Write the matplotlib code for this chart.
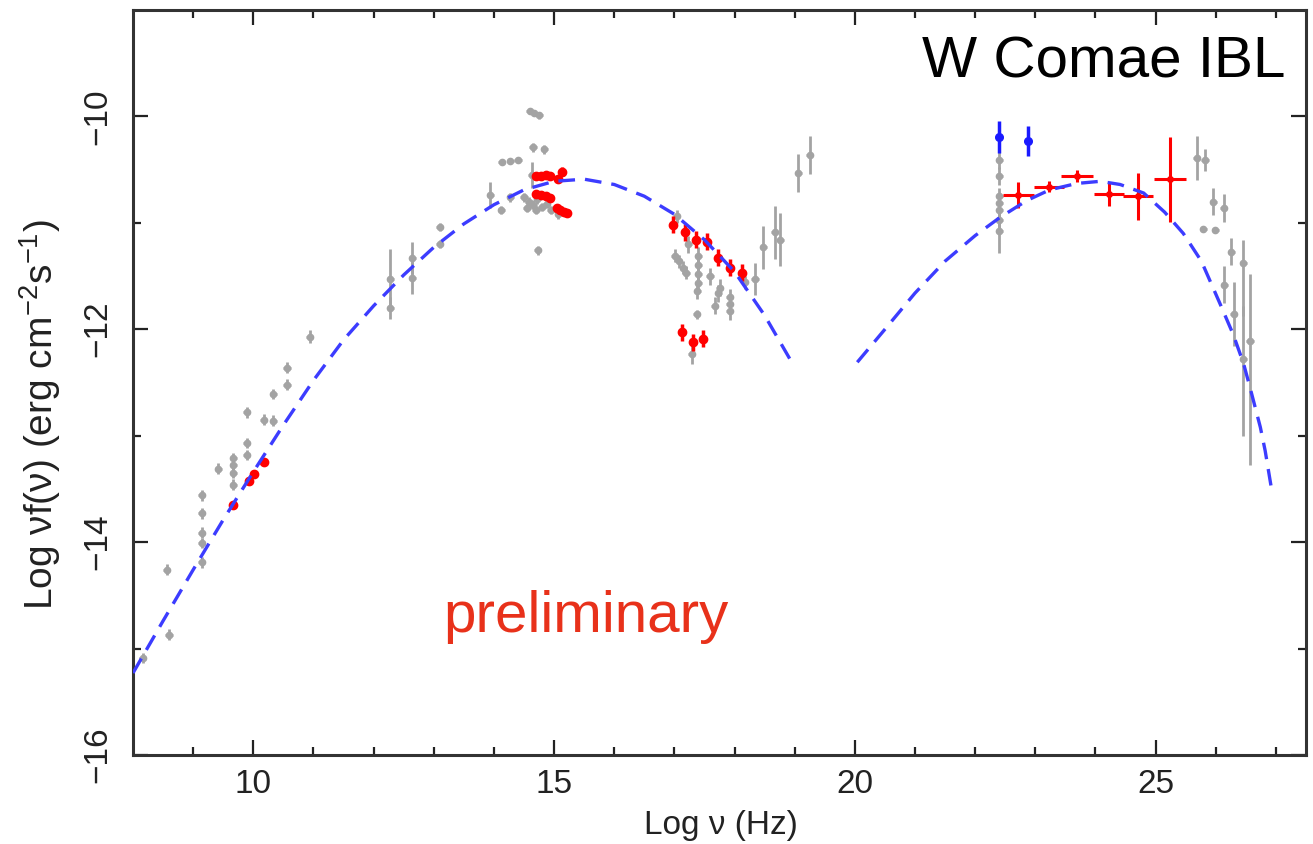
import matplotlib
matplotlib.use("Agg")
import matplotlib.pyplot as plt
import numpy as np

plt.rcParams['font.family'] = ['Liberation Sans', 'DejaVu Sans']
plt.rcParams['mathtext.fontset'] = 'custom'
plt.rcParams['mathtext.rm'] = 'Liberation Sans'
plt.rcParams['mathtext.default'] = 'regular'

# ---------------- data ----------------
# archival (grey) points: x, y, lower y-error, upper y-error
gray_x = [8.16, 8.56, 8.60, 9.14, 9.14, 9.14, 9.14, 9.14, 9.42,
          9.67, 9.67, 9.67, 9.67, 9.89, 9.89, 9.89, 10.17, 10.33, 10.33,
          10.56, 10.56, 10.94, 12.28, 12.28, 12.64, 12.64, 13.10, 13.10,
          13.94, 14.12, 14.27, 14.13, 14.27, 14.40, 14.60, 14.67, 14.75,
          14.65, 14.84, 14.63, 14.50, 14.58, 14.65, 14.72, 14.80, 14.88,
          14.95, 14.55, 14.70, 15.07, 14.73,
          17.04, 17.01, 17.07, 17.15, 17.20, 17.23, 17.40, 17.40, 17.40,
          17.40, 17.38, 17.59, 17.75, 17.73, 17.67, 17.92, 17.92, 17.92,
          17.37, 17.29, 18.17, 18.34, 18.48, 18.67, 18.76, 19.06, 19.25,
          22.40, 22.40, 22.40, 22.40, 22.40, 22.40, 22.40,
          25.68, 25.82, 25.96, 26.13, 25.79, 25.99, 26.26, 26.46, 26.14,
          26.30, 26.46, 26.57]
gray_y = [-15.09, -14.26, -14.87, -13.56, -13.73, -13.91, -14.01, -14.19, -13.31,
          -13.21, -13.28, -13.35, -13.46, -12.78, -13.07, -13.18, -12.85, -12.86, -12.61,
          -12.36, -12.52, -12.07, -11.53, -11.80, -11.33, -11.52, -11.04, -11.20,
          -10.74, -10.88, -10.76, -10.43, -10.42, -10.41, -9.95, -9.97, -9.99,
          -10.29, -10.31, -10.55, -10.76, -10.80, -10.83, -10.78, -10.85, -10.82,
          -10.88, -10.86, -10.88, -10.92, -11.26,
          -10.94, -11.31, -11.36, -11.42, -11.47, -11.20, -11.31, -11.40, -11.48,
          -11.57, -11.64, -11.50, -11.61, -11.66, -11.78, -11.70, -11.76, -11.83,
          -11.86, -12.23, -11.56, -11.53, -11.23, -11.09, -11.16, -10.53, -10.36,
          -10.41, -10.56, -10.75, -10.81, -10.88, -10.97, -11.08,
          -10.39, -10.41, -10.80, -10.86, -11.06, -11.07, -11.27, -11.38, -11.58,
          -11.86, -12.28, -12.11]
gray_ylo = [0.05, 0.05, 0.05, 0.05, 0.05, 0.05, 0.05, 0.05, 0.05,
            0.05, 0.05, 0.05, 0.05, 0.05, 0.05, 0.05, 0.05, 0.05, 0.05,
            0.05, 0.05, 0.06, 0.28, 0.10, 0.15, 0.15, 0.04, 0.04,
            0.12, 0.04, 0.04, 0.03, 0.03, 0.03, 0.03, 0.03, 0.03,
            0.04, 0.04, 0.12, 0.04, 0.04, 0.04, 0.04, 0.04, 0.04,
            0.04, 0.04, 0.04, 0.04, 0.04,
            0.06, 0.06, 0.06, 0.06, 0.06, 0.08, 0.08, 0.08, 0.08,
            0.08, 0.08, 0.08, 0.08, 0.08, 0.08, 0.08, 0.08, 0.08,
            0.04, 0.10, 0.06, 0.15, 0.20, 0.25, 0.25, 0.18, 0.18,
            0.08, 0.08, 0.08, 0.08, 0.08, 0.08, 0.20,
            0.21, 0.10, 0.13, 0.13, 0.02, 0.02, 0.13, 0.50, 0.17,
            0.30, 0.72, 1.17]
gray_yhi = [0.05, 0.05, 0.05, 0.05, 0.05, 0.05, 0.05, 0.05, 0.05,
            0.05, 0.05, 0.05, 0.05, 0.05, 0.05, 0.05, 0.05, 0.05, 0.05,
            0.05, 0.05, 0.06, 0.28, 0.10, 0.15, 0.15, 0.04, 0.04,
            0.12, 0.04, 0.04, 0.03, 0.03, 0.03, 0.03, 0.03, 0.03,
            0.04, 0.04, 0.12, 0.04, 0.04, 0.04, 0.04, 0.04, 0.04,
            0.04, 0.04, 0.04, 0.04, 0.04,
            0.06, 0.06, 0.06, 0.06, 0.06, 0.08, 0.08, 0.08, 0.08,
            0.08, 0.08, 0.08, 0.08, 0.08, 0.08, 0.08, 0.08, 0.08,
            0.04, 0.10, 0.06, 0.15, 0.20, 0.25, 0.25, 0.18, 0.18,
            0.08, 0.08, 0.08, 0.08, 0.08, 0.08, 0.08,
            0.21, 0.10, 0.13, 0.13, 0.02, 0.02, 0.13, 0.22, 0.17,
            0.30, 0.50, 0.63]

# new simultaneous (red) points
red_x = [9.67, 9.92, 10.01, 10.18,
         14.70, 14.78, 14.86, 14.94, 15.13, 15.07, 14.70, 14.78, 14.86, 14.94,
         15.04, 15.10, 15.16, 15.21,
         16.97, 17.17, 17.36, 17.55, 17.73, 17.92, 18.12, 17.12, 17.31, 17.47]
red_y = [-13.65, -13.43, -13.36, -13.25,
         -10.56, -10.56, -10.55, -10.56, -10.52, -10.59, -10.73, -10.74, -10.75, -10.77,
         -10.86, -10.88, -10.90, -10.91,
         -11.02, -11.09, -11.16, -11.18, -11.33, -11.42, -11.47, -12.03, -12.12, -12.09]
red_yerr = [0.03, 0.03, 0.03, 0.03,
            0.03, 0.03, 0.03, 0.03, 0.04, 0.03, 0.03, 0.03, 0.03, 0.03,
            0.03, 0.03, 0.03, 0.03,
            0.08, 0.08, 0.08, 0.08, 0.08, 0.08, 0.08, 0.08, 0.08, 0.08]

# Fermi-LAT (red, with energy bins)
lat_x = [22.72, 23.22, 23.69, 24.23, 24.71, 25.24]
lat_y = [-10.74, -10.66, -10.56, -10.73, -10.75, -10.59]
lat_xerr = [0.25, 0.25, 0.27, 0.25, 0.25, 0.27]
lat_yerr = [0.12, 0.05, 0.06, 0.11, 0.22, 0.40]

# blue points
blue_x = [22.40, 22.88]
blue_y = [-10.19, -10.23]
blue_yerr = [0.15, 0.14]

# model curves
sync_x = [8.0, 8.5, 9.0, 9.5, 10.0, 10.5, 11.0, 11.5, 12.0, 12.5, 13.0, 13.5,
          14.0, 14.5, 15.0, 15.5, 16.0, 16.5, 17.0, 17.5, 18.0, 18.5, 18.92]
sync_y = [-15.23, -14.74, -14.26, -13.79, -13.34, -12.90, -12.48, -12.10, -11.78,
          -11.49, -11.23, -11.01, -10.83, -10.69, -10.61, -10.59, -10.64, -10.75,
          -10.92, -11.16, -11.46, -11.87, -12.28]
ic_x = [20.04, 20.5, 21.0, 21.5, 22.0, 22.41, 22.86, 23.24, 23.69, 24.08, 24.41,
        24.80, 25.15, 25.46, 25.76, 26.07, 26.29, 26.46, 26.57, 26.74, 26.82, 26.92]
ic_y = [-12.31, -12.00, -11.66, -11.36, -11.12, -10.95, -10.79, -10.69, -10.63,
        -10.61, -10.64, -10.72, -10.90, -11.10, -11.36, -11.76, -12.05, -12.32,
        -12.55, -12.92, -13.14, -13.48]

# ---------------- figure ----------------
fig = plt.figure(figsize=(13.13, 8.44), dpi=100)
ax = fig.add_axes([0.1013, 0.1055, 0.8934, 0.8827])

gray = '#a3a3a3'
ax.errorbar(gray_x, gray_y, yerr=[gray_ylo, gray_yhi], xerr=0.06, fmt='o',
            ms=4.5, color=gray, ecolor=gray, elinewidth=2.0, capsize=0, zorder=2)
ax.errorbar(red_x, red_y, yerr=red_yerr, xerr=0.05, fmt='o', ms=6,
            color='#ff0000', ecolor='#ff0000', elinewidth=2.5, capsize=0, zorder=3)
ax.errorbar(lat_x, lat_y, yerr=lat_yerr, xerr=lat_xerr, fmt='o', ms=4,
            color='#ff0000', ecolor='#ff0000', elinewidth=2.2, capsize=0, zorder=3)
ax.errorbar(blue_x, blue_y, yerr=blue_yerr, xerr=0.03, fmt='o', ms=5.5,
            color='#1a1aff', ecolor='#1a1aff', elinewidth=2.5, capsize=0, zorder=3)

curve_color = '#3c3cff'
ax.plot(sync_x, sync_y, color=curve_color, lw=2.4, dashes=(5, 3), zorder=4)
ax.plot(ic_x, ic_y, color=curve_color, lw=2.4, dashes=(5, 3), zorder=4)

ax.set_xlim(8, 27.5)
ax.set_ylim(-16, -9)
ax.set_xticks([10, 15, 20, 25])
ax.set_xticks(np.arange(9, 28, 1), minor=True)
ax.set_yticks([-16, -14, -12, -10])
ax.set_yticks([-15, -13, -11], minor=True)

for s in ax.spines.values():
    s.set_linewidth(2.2)
    s.set_color('#333333')
ax.tick_params(which='both', direction='in', top=True, right=True,
               color='#222222', width=1.6, labelsize=24, labelcolor='#222222')
ax.tick_params(which='major', length=11)
ax.tick_params(which='minor', length=6)
ax.tick_params(axis='x', pad=10)
ax.tick_params(axis='y', pad=14)
for lab in ax.get_yticklabels():
    lab.set_rotation(90)
    lab.set_va('center')

fig.text(0.549, 0.0225, 'Log ν (Hz)', ha='center', va='center', fontsize=24,
         color='#222222')
fig.text(0.0305, 0.509, 'Log νf(ν) (erg cm$^{-2}$s$^{-1}$)', rotation=90,
         ha='center', va='center', fontsize=28, color='#222222')

fig.text(0.9787, 1 - 78 / 844, 'W Comae IBL', ha='right', va='baseline',
         fontsize=42, color='black')
ax.text(13.15, -14.84, 'preliminary', ha='left', va='baseline', fontsize=42,
        color='#e8311a')

fig.savefig('out.png', dpi=100)
